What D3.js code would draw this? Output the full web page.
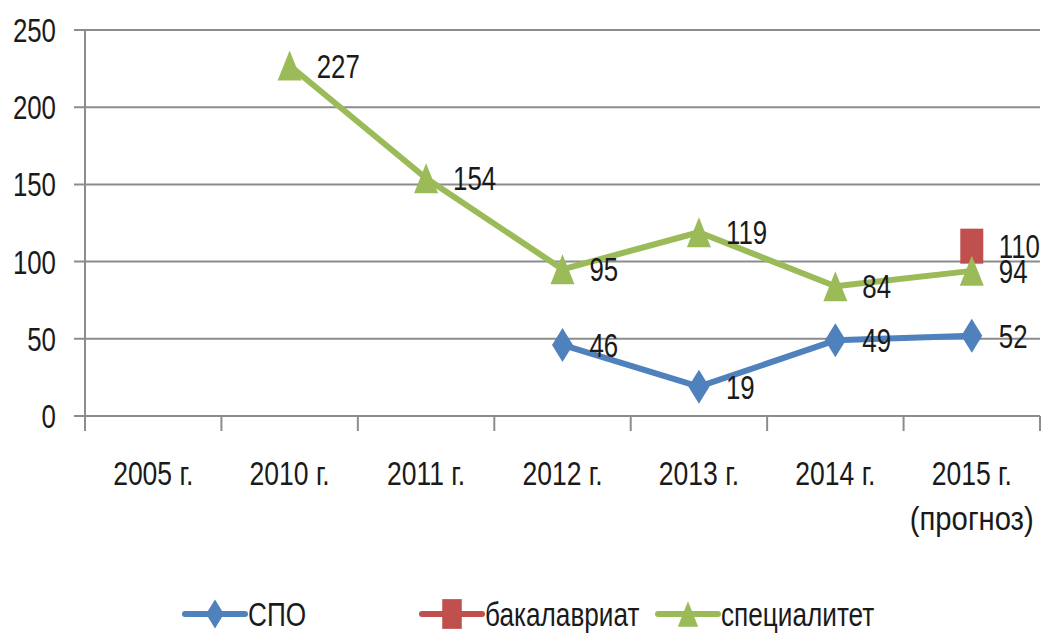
<!DOCTYPE html>
<head>
  <meta charset="utf-8">
  <title>Line chart</title>
  <script src="https://d3js.org/d3.v7.min.js"></script>
</head>
<body style="margin:0;background:#fff">
  <style>
  text {
    font-family: "Liberation Sans", Arial, sans-serif;
    font-size: 34px;
    fill: #1a1a1a;
  }
  </style>
  <script>
    var categories = ['2005 г.', '2010 г.', '2011 г.', '2012 г.', '2013 г.', '2014 г.', '2015 г.|(прогноз)'];
    var spo = [null, null, null, 46, 19, 49, 52];
    var bakalavriat = [null, null, null, null, null, null, 110];
    var specialitet = [null, 227, 154, 95, 119, 84, 94];
    var yTicks = [0, 50, 100, 150, 200, 250];

    var seriesNames = ['СПО', 'бакалавриат', 'специалитет'];
    var seriesColors = ['#4F81BD', '#C0504D', '#9BBB59'];
    var seriesShapes = ['diamond', 'square', 'triangle'];
    var seriesValues = [spo, bakalavriat, specialitet];

    var width = 1053;
    var height = 635;

    var svg = d3.select('body').append('svg').attr('width', width).attr('height', height);

    // squeeze text horizontally (reference font is a narrow one)
    function condense(sel, k) {
      sel.each(function() {
        var w = this.getComputedTextLength();
        d3.select(this).attr('textLength', w * k).attr('lengthAdjust', 'spacingAndGlyphs');
      });
    }

    var xscale = d3.scaleBand()
      .domain(categories)
      .range([85, 1040]);

    var yscale = d3.scaleLinear()
      .domain([0, 250])
      .range([416, 30]);

    // gridlines
    svg.selectAll('.grid')
      .data(yTicks)
      .enter()
      .append('line')
      .attr('x1', 74)
      .attr('x2', 1040)
      .attr('y1', function(d) {return yscale(d);})
      .attr('y2', function(d) {return yscale(d);})
      .attr('stroke', '#8c8c8c')
      .attr('stroke-width', 2);

    // y axis line
    svg.append('line')
      .attr('x1', 85).attr('x2', 85)
      .attr('y1', yscale(250)).attr('y2', 431)
      .attr('stroke', '#8c8c8c').attr('stroke-width', 2);

    // x ticks at band edges
    var edges = categories.map(function(c) {return xscale(c);}).concat([xscale.range()[1]]);
    svg.selectAll('.xtick')
      .data(edges)
      .enter()
      .append('line')
      .attr('x1', function(d) {return d;})
      .attr('x2', function(d) {return d;})
      .attr('y1', 416).attr('y2', 431)
      .attr('stroke', '#8c8c8c').attr('stroke-width', 2);

    // y labels
    svg.selectAll('.ylab')
      .data(yTicks)
      .enter()
      .append('text')
      .attr('x', 56)
      .attr('y', function(d) {return yscale(d) + 12;})
      .attr('text-anchor', 'end')
      .text(function(d) {return d;})
      .call(condense, 0.76);

    // x labels
    var xl = svg.selectAll('.xlab')
      .data(categories)
      .enter()
      .append('text')
      .attr('text-anchor', 'middle')
      .attr('x', function(d) {return xscale(d) + xscale.bandwidth() / 2;})
      .attr('y', 485);
    xl.each(function(d) {
      var parts = d.split('|');
      var t = d3.select(this);
      parts.forEach(function(p, i) {
        t.append('tspan')
          .attr('x', xscale(d) + xscale.bandwidth() / 2)
          .attr('dy', i === 0 ? 0 : 45)
          .text(p)
          .call(condense, i === 0 ? 0.78 : 0.86);
      });
    });

    function markerPath(shape, k) {
      k = k || 1;
      if (shape === 'diamond') return 'M0,' + (-17 * k) + 'L' + (10.5 * k) + ',0L0,' + (17 * k) + 'L' + (-10.5 * k) + ',0Z';
      if (shape === 'triangle') return 'M0,' + (-15 * k) + 'L' + (12 * k) + ',' + (15 * k) + 'L' + (-12 * k) + ',' + (15 * k) + 'Z';
      return 'M' + (-11.5 * k) + ',' + (-17.5 * k) + 'L' + (11.5 * k) + ',' + (-17.5 * k) +
        'L' + (11.5 * k) + ',' + (17.5 * k) + 'L' + (-11.5 * k) + ',' + (17.5 * k) + 'Z';
    }

    var line = d3.line()
      .defined(function(d) {return d !== null;})
      .x(function(d, i) {return xscale(categories[i]) + xscale.bandwidth() / 2;})
      .y(function(d) {return yscale(d);});

    seriesValues.forEach(function(vals, s) {
      svg.append('path')
        .attr('d', line(vals))
        .attr('fill', 'none')
        .attr('stroke', seriesColors[s])
        .attr('stroke-width', 6)
        .attr('stroke-linejoin', 'round');

      var pts = vals.map(function(v, i) {return {v: v, c: categories[i]};})
        .filter(function(d) {return d.v !== null;});

      svg.selectAll('.m' + s)
        .data(pts)
        .enter()
        .append('path')
        .attr('d', markerPath(seriesShapes[s]))
        .attr('transform', function(d) {
          return 'translate(' + (xscale(d.c) + xscale.bandwidth() / 2) + ',' + yscale(d.v) + ')';
        })
        .attr('fill', seriesColors[s]);

      svg.selectAll('.l' + s)
        .data(pts)
        .enter()
        .append('text')
        .attr('x', function(d) {return xscale(d.c) + xscale.bandwidth() / 2 + 27;})
        .attr('y', function(d) {return yscale(d.v) + 12;})
        .text(function(d) {return d.v;})
        .call(condense, 0.76);
    });

    // legend
    var legendX = [185, 422, 658];
    seriesNames.forEach(function(name, s) {
      var g = svg.append('g').attr('transform', 'translate(' + legendX[s] + ',614)');
      g.append('line')
        .attr('x1', 0).attr('x2', 60)
        .attr('y1', 0).attr('y2', 0)
        .attr('stroke', seriesColors[s]).attr('stroke-width', 6)
        .attr('stroke-linecap', 'round');
      g.append('path')
        .attr('d', markerPath(seriesShapes[s], 0.85))
        .attr('transform', 'translate(30,0)')
        .attr('fill', seriesColors[s]);
      g.append('text')
        .attr('x', 63)
        .attr('y', 12)
        .text(name)
        .call(condense, 0.77);
    });
  </script>
</body>
